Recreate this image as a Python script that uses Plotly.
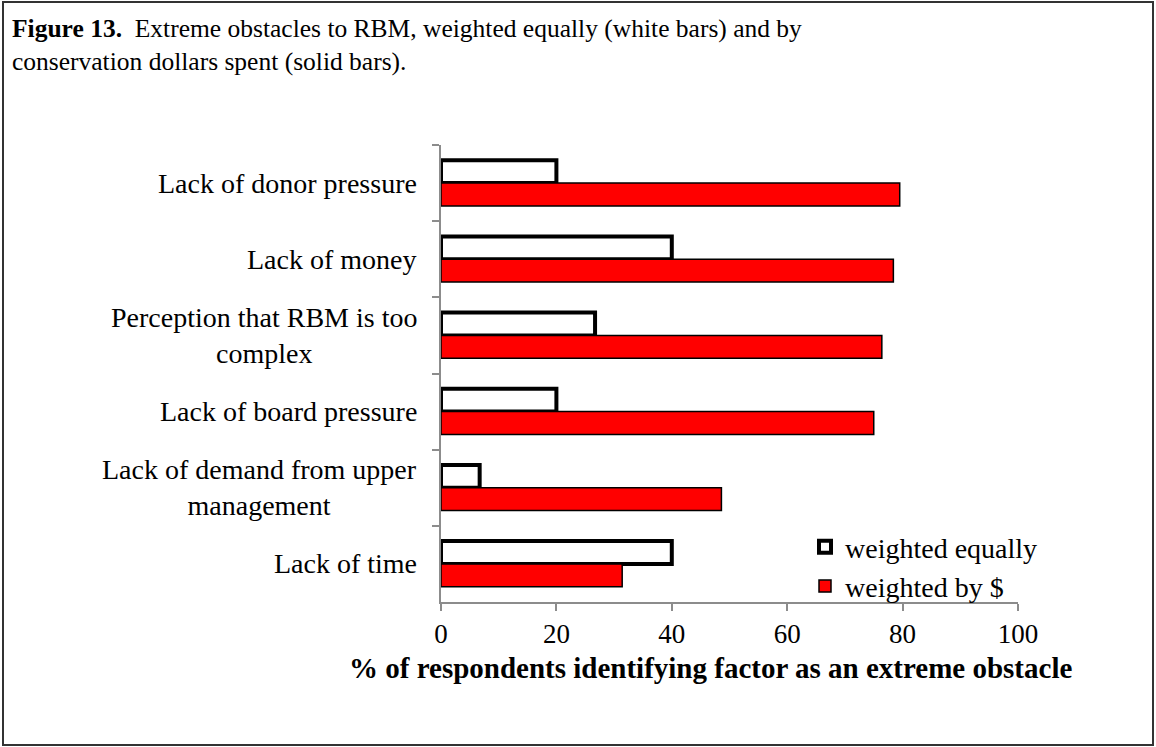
import plotly.graph_objects as go

categories = [
    "Lack of donor pressure",
    "Lack of money",
    "Perception that RBM is too<br>complex",
    "Lack of board pressure",
    "Lack of demand from upper<br>management",
    "Lack of time",
]
weighted_equally = [20.0, 40.0, 26.7, 20.0, 6.7, 40.0]
weighted_by_dollars = [79.5, 78.4, 76.4, 75.0, 48.6, 31.4]
x_ticks = [0, 20, 40, 60, 80, 100]

FONT = "Liberation Serif"
L, R, T, B = 441, 138, 145, 145
PW, PH = 1156 - L - R, 747 - T - B


def px(x):
    return (x - L) / PW


def py(y):
    return (747 - B - y) / PH


fig = go.Figure()
fig.add_trace(go.Bar(
    y=categories, x=weighted_equally, orientation="h", name="weighted equally",
    marker=dict(color="white", line=dict(color="black", width=4)),
))
fig.add_trace(go.Bar(
    y=categories, x=weighted_by_dollars, orientation="h", name="weighted by $",
    marker=dict(color="#ff0000", line=dict(color="black", width=1.5)),
))

for c in categories:
    fig.add_annotation(
        x=0, xref="paper", y=c, yref="y", text=c, showarrow=False,
        xanchor="right", xshift=-22, align="center",
        font=dict(family=FONT, size=28, color="black"),
    )

# title
fig.add_annotation(
    x=px(10), y=py(12), xref="paper", yref="paper", xanchor="left", yanchor="top",
    align="left", showarrow=False,
    text="<b>Figure 13.</b>  Extreme obstacles to RBM, weighted equally (white bars) and by<br>conservation dollars spent (solid bars).",
    font=dict(family=FONT, size=25.5, color="black"),
)
# x-axis title
fig.add_annotation(
    x=px(710), y=py(668), xref="paper", yref="paper", xanchor="center", yanchor="middle",
    showarrow=False,
    text="<b>% of respondents identifying factor as an extreme obstacle</b>",
    font=dict(family=FONT, size=29, color="black"),
)

fig.update_layout(
    width=1156, height=747,
    margin=dict(l=L, r=R, t=T, b=B),
    paper_bgcolor="white", plot_bgcolor="white",
    barmode="group", bargap=0.4, bargroupgap=0,
    font=dict(family=FONT, size=25, color="black"),
    showlegend=True,
    legend=dict(x=px(805), y=py(522), xanchor="left", yanchor="top",
                font=dict(family=FONT, size=28, color="black"),
                bgcolor="rgba(0,0,0,0)", itemwidth=30, tracegroupgap=0),
)

fig.update_xaxes(
    range=[0, 100], tickvals=x_ticks, ticktext=[str(v) for v in x_ticks],
    showline=True, linecolor="#8c8c8c", linewidth=1.5,
    ticks="outside", ticklen=7, tickcolor="#8c8c8c", tickwidth=1.5,
    showgrid=False, zeroline=False,
    tickfont=dict(family=FONT, size=27, color="black"),
)
fig.update_yaxes(
    autorange="reversed", categoryorder="array", categoryarray=categories,
    showticklabels=False,
    showline=True, linecolor="#8c8c8c", linewidth=1.5,
    ticks="outside", ticklen=7, tickcolor="#8c8c8c", tickwidth=1.5,
    tickson="boundaries", showgrid=False, zeroline=False,
)

# outer frame
fig.add_shape(type="rect", xref="paper", yref="paper",
              x0=px(3), x1=px(1153), y0=py(745), y1=py(2),
              line=dict(color="#333333", width=2), fillcolor="rgba(0,0,0,0)", layer="below")

fig.write_html("out.html", config={"displayModeBar": False},
               post_script="document.body.style.margin='0px';document.body.style.overflow='hidden';")
